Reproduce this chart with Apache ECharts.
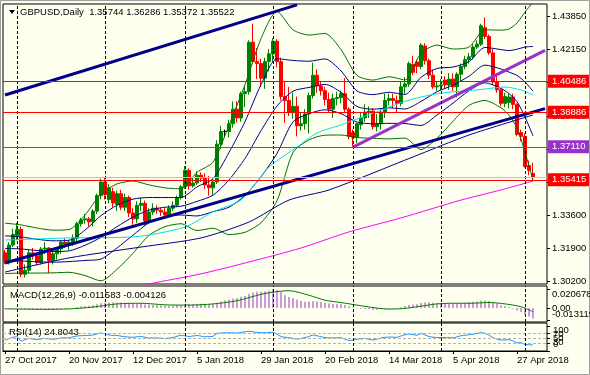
<!DOCTYPE html>
<html><head><meta charset="utf-8">
<script src="https://cdn.jsdelivr.net/npm/echarts@6/dist/echarts.min.js"></script>
<style>html,body{margin:0;padding:0;background:#FFFFF0;}#c{width:590px;height:375px;}</style>
</head><body><div id="c"></div>
<script>
// ---- categories (trading days) ----
const monthDays = [
 ['Oct 2017',[27,30,31]],
 ['Nov 2017',[1,2,3,6,7,8,9,10,13,14,15,16,17,20,21,22,23,24,27,28,29,30]],
 ['Dec 2017',[1,4,5,6,7,8,11,12,13,14,15,18,19,20,21,22,26,27,28,29]],
 ['Jan 2018',[2,3,4,5,8,9,10,11,12,15,16,17,18,19,22,23,24,25,26,29,30,31]],
 ['Feb 2018',[1,2,5,6,7,8,9,12,13,14,15,16,19,20,21,22,23,26,27,28]],
 ['Mar 2018',[1,2,5,6,7,8,9,12,13,14,15,16,19,20,21,22,23,26,27,28,29,30]],
 ['Apr 2018',[2,3,4,5,6,9,10,11,12,13,16,17,18,19,20,23,24,25,26,27,30]],
 ['May 2018',[1,2,3]]
];
const emptySlots = [' ', '  ', '   '];
// ---- OHLC ----
const open = [1.3165,1.3125,1.3205,1.3255,1.3285,1.3055,1.3075,1.3165,1.3150,1.3115,1.3185,1.3190,1.3125,1.3160,1.3185,1.3220,1.3210,1.3220,1.3240,1.3315,1.3335,1.3340,1.3325,1.3380,1.3460,1.3530,1.3440,1.3480,1.3415,1.3470,1.3400,1.3450,1.3370,1.3340,1.3410,1.3420,1.3330,1.3375,1.3395,1.3385,1.3375,1.3360,1.3395,1.3410,1.3450,1.3505,1.3590,1.3510,1.3525,1.3565,1.3550,1.3515,1.3500,1.3530,1.3725,1.3790,1.3790,1.3830,1.3905,1.3860,1.3985,1.3995,1.4250,1.4150,1.4140,1.4065,1.4150,1.4190,1.4255,1.4150,1.3970,1.3950,1.3890,1.3920,1.3820,1.3830,1.3880,1.3975,1.4080,1.4025,1.4000,1.3955,1.3905,1.3960,1.3965,1.3985,1.3905,1.3785,1.3760,1.3825,1.3860,1.3890,1.3895,1.3815,1.3830,1.3890,1.3950,1.3960,1.3950,1.3935,1.4020,1.4035,1.4135,1.4148,1.4125,1.4230,1.4155,1.4080,1.4020,1.4025,1.4055,1.4030,1.4060,1.4020,1.4085,1.4125,1.4160,1.4175,1.4225,1.4240,1.4325,1.4280,1.4195,1.4045,1.4005,1.3935,1.3940,1.3968,1.3930,1.3785,1.3765,1.3615,1.35744];
const high = [1.3180,1.3220,1.3290,1.3320,1.3300,1.3105,1.3180,1.3190,1.3165,1.3195,1.3220,1.3195,1.3180,1.3195,1.3230,1.3240,1.3230,1.3260,1.3325,1.3345,1.3365,1.3350,1.3390,1.3470,1.3548,1.3550,1.3520,1.3500,1.3485,1.3490,1.3470,1.3460,1.3395,1.3430,1.3450,1.3435,1.3395,1.3420,1.3410,1.3400,1.3395,1.3410,1.3430,1.3460,1.3515,1.3612,1.3600,1.3555,1.3585,1.3580,1.3575,1.3560,1.3545,1.3745,1.3820,1.3800,1.3850,1.3945,1.3945,1.3995,1.4025,1.4260,1.4345,1.4220,1.4165,1.4170,1.4215,1.4270,1.4265,1.4170,1.4050,1.4020,1.3990,1.3970,1.3885,1.3905,1.3990,1.4145,1.4110,1.4045,1.4020,1.3990,1.3985,1.3995,1.4000,1.4065,1.3915,1.3800,1.3835,1.3885,1.3930,1.3920,1.3910,1.3880,1.3905,1.3985,1.3985,1.3985,1.3975,1.4045,1.4070,1.4150,1.4180,1.4160,1.4245,1.4245,1.4165,1.4110,1.4045,1.4060,1.4075,1.4090,1.4090,1.4095,1.4140,1.4180,1.4195,1.4240,1.4260,1.4345,1.4377,1.4290,1.4215,1.4090,1.4010,1.3990,1.3985,1.3985,1.3935,1.3800,1.3780,1.3640,1.36286];
const low = [1.3108,1.3105,1.3195,1.3230,1.3040,1.3038,1.3060,1.3130,1.3100,1.3105,1.3160,1.3060,1.3105,1.3130,1.3160,1.3190,1.3180,1.3200,1.3225,1.3300,1.3315,1.3300,1.3300,1.3365,1.3440,1.3440,1.3420,1.3400,1.3380,1.3385,1.3380,1.3350,1.3310,1.3320,1.3380,1.3305,1.3315,1.3360,1.3365,1.3355,1.3340,1.3350,1.3380,1.3400,1.3440,1.3495,1.3490,1.3500,1.3515,1.3530,1.3495,1.3460,1.3465,1.3520,1.3700,1.3760,1.3760,1.3810,1.3835,1.3840,1.3915,1.3980,1.4140,1.4060,1.4020,1.4010,1.4100,1.4150,1.4120,1.3950,1.3835,1.3870,1.3855,1.3765,1.3795,1.3800,1.3780,1.3960,1.3990,1.3975,1.3925,1.3890,1.3860,1.3925,1.3935,1.3885,1.3750,1.3712,1.3730,1.3800,1.3840,1.3860,1.3800,1.3790,1.3800,1.3860,1.3925,1.3910,1.3890,1.3920,1.3985,1.4020,1.4080,1.4090,1.4110,1.4135,1.4060,1.4010,1.4000,1.4000,1.4010,1.4005,1.4000,1.3965,1.4050,1.4110,1.4140,1.4160,1.4215,1.4230,1.4265,1.4185,1.4030,1.3990,1.3920,1.3915,1.3910,1.3905,1.3765,1.3740,1.3605,1.3565,1.35372];
const close = [1.3120,1.3205,1.3260,1.3285,1.3055,1.3075,1.3165,1.3150,1.3115,1.3185,1.3190,1.3125,1.3160,1.3185,1.3220,1.3210,1.3220,1.3240,1.3315,1.3335,1.3340,1.3325,1.3380,1.3460,1.3530,1.3465,1.3500,1.3422,1.3470,1.3400,1.3450,1.3370,1.3340,1.3410,1.3420,1.3330,1.3375,1.3395,1.3385,1.3375,1.3360,1.3395,1.3410,1.3450,1.3505,1.3590,1.3510,1.3525,1.3565,1.3550,1.3515,1.3500,1.3530,1.3725,1.3790,1.3790,1.3830,1.3905,1.3860,1.3985,1.3995,1.4250,1.4150,1.4140,1.4065,1.4150,1.4190,1.4255,1.4150,1.3970,1.3950,1.3890,1.3920,1.3820,1.3830,1.3880,1.3975,1.4080,1.4025,1.4000,1.3955,1.3905,1.3960,1.3965,1.3985,1.3905,1.3765,1.3760,1.3830,1.3860,1.3890,1.3895,1.3815,1.3830,1.3890,1.3950,1.3960,1.3950,1.3935,1.4020,1.4035,1.4140,1.4095,1.4125,1.4235,1.4155,1.4080,1.4020,1.4025,1.4030,1.4030,1.4060,1.4020,1.4085,1.4125,1.4160,1.4175,1.4225,1.4240,1.4335,1.4280,1.4195,1.4045,1.4005,1.3935,1.3970,1.3968,1.3930,1.3775,1.3765,1.3610,1.3590,1.35522];
// ---- indicator lines: [bar index, price] ----
const bbUpper2 = [[0,1.3318],[4,1.3309],[8,1.3293],[12,1.3282],[16,1.3285],[20,1.3360],[24,1.3469],[28,1.3520],[32,1.3535],[36,1.3515],[40,1.3500],[44,1.3495],[48,1.3580],[52,1.3632],[56,1.3823],[60,1.4031],[64,1.4268],[68,1.4409],[72,1.4314],[76,1.4287],[80,1.4295],[84,1.4212],[88,1.4079],[92,1.4055],[96,1.4072],[100,1.4056],[104,1.4193],[108,1.4235],[112,1.4215],[116,1.4225],[120,1.4314],[124,1.4312],[126,1.4318],[128,1.4349],[130,1.4405],[132,1.4458]];
const bbUpper1 = [[0,1.3253],[4,1.3247],[8,1.3235],[12,1.3227],[16,1.3230],[20,1.3282],[24,1.3357],[28,1.3410],[32,1.3442],[36,1.3450],[40,1.3450],[44,1.3450],[48,1.3505],[52,1.3547],[56,1.3682],[60,1.3841],[64,1.4031],[68,1.4165],[72,1.4156],[76,1.4152],[80,1.4164],[84,1.4102],[88,1.3999],[92,1.3980],[96,1.3992],[100,1.3981],[104,1.4069],[108,1.4115],[112,1.4122],[116,1.4150],[120,1.4223],[124,1.4212],[126,1.4207],[128,1.4214],[130,1.4225],[132,1.4228]];
const bbMid = [[0,1.3188],[4,1.3185],[8,1.3177],[12,1.3172],[16,1.3175],[20,1.3204],[24,1.3245],[28,1.3300],[32,1.3349],[36,1.3385],[40,1.3400],[44,1.3405],[48,1.3430],[52,1.3462],[56,1.3541],[60,1.3651],[64,1.3794],[68,1.3921],[72,1.3998],[76,1.4017],[80,1.4033],[84,1.3992],[88,1.3919],[92,1.3905],[96,1.3912],[100,1.3906],[104,1.3945],[108,1.3995],[112,1.4029],[116,1.4075],[120,1.4132],[124,1.4112],[126,1.4096],[128,1.4079],[130,1.4045],[132,1.3998]];
const bbLower1 = [[0,1.3123],[4,1.3123],[8,1.3119],[12,1.3117],[16,1.3120],[20,1.3126],[24,1.3133],[28,1.3190],[32,1.3256],[36,1.3320],[40,1.3350],[44,1.3360],[48,1.3355],[52,1.3377],[56,1.3400],[60,1.3461],[64,1.3557],[68,1.3677],[72,1.3840],[76,1.3882],[80,1.3902],[84,1.3882],[88,1.3839],[92,1.3830],[96,1.3832],[100,1.3831],[104,1.3821],[108,1.3875],[112,1.3936],[116,1.4000],[120,1.4041],[124,1.4012],[126,1.3985],[128,1.3944],[130,1.3865],[132,1.3768]];
const bbLower2 = [[0,1.3058],[4,1.3061],[8,1.3061],[12,1.3062],[16,1.3065],[20,1.3048],[24,1.3021],[28,1.3080],[32,1.3163],[36,1.3255],[40,1.3300],[44,1.3315],[48,1.3280],[52,1.3292],[56,1.3259],[60,1.3271],[64,1.3320],[68,1.3433],[72,1.3682],[76,1.3747],[80,1.3771],[84,1.3772],[88,1.3759],[92,1.3755],[96,1.3752],[100,1.3756],[104,1.3697],[108,1.3755],[112,1.3843],[116,1.3925],[120,1.3950],[124,1.3912],[126,1.3874],[128,1.3809],[130,1.3685],[132,1.3538]];
const maCyan = [[0,1.3231],[16,1.3242],[32,1.3247],[45,1.3298],[52,1.3376],[59,1.3437],[66,1.3607],[73,1.3710],[78,1.3783],[84,1.3824],[92,1.3885],[101,1.3952],[109,1.3988],[118,1.4004],[125,1.4019],[129,1.4004],[132,1.3978]];
const maSlow = [[0,1.3066],[16,1.3139],[34,1.3195],[49,1.3242],[61,1.3324],[71,1.3437],[81,1.3489],[102,1.3659],[116,1.3772],[132,1.3875]];
const maMagenta = [[30,1.2975],[36,1.3005],[49,1.3057],[61,1.3118],[74,1.3190],[86,1.3273],[99,1.3345],[114,1.3437],[124,1.3489],[132,1.3535]];
// trendlines: [bar index, price]
const trendUpper = [[0,1.3978],[73,1.4442]];
const trendLower = [[0,1.3113],[135,1.3908]];
const trendPurple = [[87,1.3710],[135,1.4208]];
// horizontal levels
const redLevels = [1.40486, 1.38886, 1.35415];
const purpleLevel = 1.37110;
const bidPrice = 1.35522;
const priceTicks = [1.30200,1.31900,1.33600,1.35300,1.37000,1.38700,1.40450,1.42150,1.43850];
// MACD(12,26,9)
const macdMain = [-0.0012,-0.0010,-0.0006,-0.0003,
 -0.0010,-0.0016,-0.0016,-0.0017,-0.0019,-0.0016,-0.0014,-0.0016,-0.0014,-0.0012,-0.0008,-0.0006,
 -0.0004,0.0000,0.0008,0.0016,0.0022,0.0025,0.0030,0.0040,
 0.0052,0.0058,0.0060,0.0061,0.0060,0.0060,0.0057,0.0052,0.0047,0.0046,0.0046,
 0.0038,0.0035,0.0033,0.0030,0.0028,0.0025,0.0025,0.0026,0.0029,0.0034,
 0.0042,0.0043,0.0045,0.0047,0.0048,0.0047,0.0045,0.0044,
 0.0058,0.0072,0.0082,0.0092,0.0104,0.0110,0.0123,0.0132,
 0.0158,0.0170,0.0178,0.0178,0.0184,0.0190,0.020678,0.0198,
 0.0172,0.0140,0.0122,0.0108,0.0090,0.0078,0.0070,0.0072,
 0.0074,0.0072,0.0066,0.0058,0.0050,0.0046,0.0042,0.0040,0.0032,0.0018,
 0.0006,-0.0004,-0.0008,-0.0012,-0.0015,-0.0020,-0.0018,-0.0015,-0.0010,-0.0006,-0.0004,-0.0002,0.0008,
 0.0022,0.0033,0.0038,0.0042,0.0055,0.0060,0.0060,0.0057,0.0053,0.0050,0.0048,
 0.0048,0.0046,0.0049,0.0053,0.0058,0.0062,0.0068,0.0072,0.0080,0.0082,0.0078,0.0064,0.0050,
 0.0030,0.0020,0.0012,-0.0005,-0.0028,-0.0045,-0.0072,-0.0094,-0.011583];
const macdSignal = [[0,-0.0010],[5,-0.0012],[10,-0.0015],[16,-0.0010],[22,0.0010],[28,0.0045],[34,0.0052],[40,0.0035],[46,0.0032],[52,0.0045],[58,0.0080],[64,0.0150],[68,0.0180],[71,0.0190],[76,0.0140],[80,0.0086],[84,0.0060],[88,0.0032],[92,0.0005],[96,-0.0012],[100,-0.0004],[104,0.0020],[108,0.0045],[112,0.0052],[116,0.0052],[121,0.0060],[125,0.0045],[129,0.0014],[132,-0.004126]];
const macdTicks = [-0.013119, 0, 0.020678];
const macdTickText = ['-0.013119', '0.00', '0.020678'];
const macdLabelShift = [-6, 0, 5];
// RSI(14)
const rsi = [[0,43],[2,55],[3,57],[4,40],[6,50],[8,46],[10,50],[12,47],[14,52],[16,53],[18,60],[20,62],[22,64],[24,72],[26,64],[28,62],[30,57],[32,55],[34,58],[36,52],[38,52],[40,50],[42,54],[44,63],[46,58],[48,62],[50,57],[52,59],[53,70],[56,73],[58,72],[61,79],[63,74],[65,73],[67,75],[69,58],[71,53],[73,48],[76,58],[77,64],[79,57],[81,52],[84,53],[86,42],[88,47],[90,50],[92,44],[94,52],[96,56],[98,55],[99,60],[101,68],[103,63],[104,70],[106,58],[108,54],[110,54],[112,53],[114,61],[117,67],[119,73],[120,71],[121,63],[122,53],[124,44],[126,45],[127,40],[128,33],[129,33],[130,26],[131,25],[132,24.8043]];
const rsiLevels = [30, 50, 70];
const rsiTicks = [0, 30, 50, 70, 100];
const rsiLabelShift = [-7, -1, 0, 1, 4];
// month separators (first bar of each month) & labelled dates
const sepIdx = [3, 25, 45, 67, 87, 109, 130];
const labelEvery = 16;

// ---- build ----
const dates = [];
monthDays.forEach(([m, ds]) => ds.forEach(d => dates.push(d + ' ' + m)));
const cats = dates.concat(emptySlots);
const candles = open.map((o, i) => [o, close[i], low[i], high[i]]);

const FONT = 'Liberation Sans';
const FS = 9.5;
const NAVY = '#00008B', GREEN = '#007000', PURPLE = '#9932CC';

const sepLines = sepIdx.map(i => ({ xAxis: cats[i] }));
const sepStyle = { color: '#000', type: [3, 2], width: 1 };

function xAx(g, showLabels) {
  return {
    type: 'category', gridIndex: g, data: cats, boundaryGap: true,
    axisLine: { show: showLabels, lineStyle: { color: '#000' } },
    axisTick: { show: showLabels, interval: labelEvery - 1, alignWithLabel: true, length: 3, lineStyle: { color: '#000' } },
    axisLabel: { show: showLabels, interval: labelEvery - 1, align: 'left', margin: 4,
      fontFamily: FONT, fontSize: FS, color: '#000', hideOverlap: false,
      formatter: v => v.trim() === '' ? '' : v },
    splitLine: { show: false }
  };
}
function lineS(data, color, width, z) {
  return { type: 'line', xAxisIndex: 0, yAxisIndex: 0, data, showSymbol: false, symbol: 'none',
    smooth: 0.25, lineStyle: { color, width }, z: z || 3, silent: true };
}

const chart = echarts.init(document.getElementById('c'), null, { renderer: 'canvas' });
chart.setOption({
  animation: false,
  backgroundColor: '#FFFFF0',
  grid: [
    { left: 3, width: 544, top: 4, height: 280, show: true, borderColor: '#000', borderWidth: 1 },
    { left: 3, width: 544, top: 286, height: 36, show: true, borderColor: '#000', borderWidth: 1 },
    { left: 3, width: 544, top: 323, height: 28, show: true, borderColor: '#000', borderWidth: 1 }
  ],
  xAxis: [xAx(0, false), xAx(1, false), xAx(2, true)],
  yAxis: [
    { type: 'value', gridIndex: 0, position: 'right', min: 1.30046, max: 1.44468,
      splitLine: { show: false }, axisLine: { show: false },
      axisTick: { show: true, length: 3, customValues: priceTicks, lineStyle: { color: '#000' } },
      axisLabel: { customValues: priceTicks, interval: 0, margin: 5, fontFamily: FONT, fontSize: FS, color: '#000', hideOverlap: false,
        formatter: v => v.toFixed(5) } },
    { type: 'value', gridIndex: 1, position: 'right', min: -0.0154, max: 0.0242,
      splitLine: { show: false }, axisLine: { show: false },
      axisTick: { show: true, length: 3, customValues: macdTicks, lineStyle: { color: '#000' } },
      axisLabel: { show: false } },
    { type: 'value', gridIndex: 2, position: 'right', min: 0, max: 112,
      splitLine: { show: false }, axisLine: { show: false },
      axisTick: { show: true, length: 3, customValues: rsiTicks, lineStyle: { color: '#000' } },
      axisLabel: { show: false } }
  ],
  series: [
    { type: 'candlestick', xAxisIndex: 0, yAxisIndex: 0, data: candles, barWidth: 3, z: 2,
      itemStyle: { color: '#008000', color0: '#FF0000', borderColor: '#008000', borderColor0: '#FF0000',
        borderColorDoji: '#000', borderWidth: 1 },
      markLine: { silent: true, symbol: ['none', 'none'], precision: 5, z: 6,
        data: [
          ...sepLines.map(d => Object.assign({ lineStyle: sepStyle, label: { show: false } }, d)),
          { yAxis: bidPrice, lineStyle: { color: '#C0C0C0', type: 'solid', width: 1 }, label: { show: false } },
          ...redLevels.map(v => ({ yAxis: v, lineStyle: { color: '#FF0000', type: 'solid', width: 1 },
            label: { show: true, position: 'end', distance: 1, formatter: v.toFixed(5), color: '#fff',
              backgroundColor: '#FF0000', padding: [2, 5, 1, 4], fontFamily: FONT, fontSize: FS } })),
          { yAxis: purpleLevel, lineStyle: { color: PURPLE, type: 'solid', width: 1 },
            label: { show: true, position: 'end', distance: 1, formatter: purpleLevel.toFixed(5), color: '#fff',
              backgroundColor: PURPLE, padding: [2, 5, 1, 4], fontFamily: FONT, fontSize: FS } }
        ] } },
    lineS(bbUpper2, GREEN, 1), lineS(bbLower2, GREEN, 1),
    lineS(bbUpper1, NAVY, 1), lineS(bbMid, NAVY, 1), lineS(bbLower1, NAVY, 1),
    lineS(maCyan, '#00E0F0', 1), lineS(maSlow, NAVY, 1), lineS(maMagenta, '#FF00FF', 1),
    Object.assign(lineS(trendUpper, NAVY, 3, 5), { smooth: false }),
    Object.assign(lineS(trendLower, NAVY, 3, 5), { smooth: false }),
    Object.assign(lineS(trendPurple, PURPLE, 3, 5), { smooth: false }),
    { type: 'bar', xAxisIndex: 1, yAxisIndex: 1, data: macdMain, barWidth: 1, itemStyle: { color: PURPLE }, silent: true,
      markLine: { silent: true, symbol: ['none', 'none'], data: sepLines, lineStyle: sepStyle, label: { show: false } } },
    { type: 'line', xAxisIndex: 1, yAxisIndex: 1, data: macdSignal, showSymbol: false, smooth: 0.3,
      lineStyle: { color: '#008000', width: 1 }, silent: true },
    { type: 'line', xAxisIndex: 2, yAxisIndex: 2, data: rsi, showSymbol: false, smooth: 0.2,
      lineStyle: { color: '#1E90FF', width: 1 }, silent: true,
      markLine: { silent: true, symbol: ['none', 'none'], label: { show: false },
        data: [
          ...rsiLevels.map(v => ({ yAxis: v, lineStyle: { color: '#B4B4B4', type: [3, 2], width: 1 } })),
          ...sepLines.map(d => Object.assign({ lineStyle: sepStyle }, d))
        ] } }
  ]
});

// sub-window scale labels, placed at their values through the axes
const axisX = chart.convertToPixel({ xAxisIndex: 2 }, cats[cats.length - 1]) + 2 + 5;
const subLabels = [];
macdTicks.forEach((v, k) => {
  const y = chart.convertToPixel({ yAxisIndex: 1 }, v) + macdLabelShift[k];
  subLabels.push({ type: 'text', x: axisX, y, z: 100, silent: true,
    style: { text: macdTickText[k], fontFamily: FONT, fontSize: FS, fill: '#000', verticalAlign: 'middle' } });
});
rsiTicks.forEach((v, k) => {
  const y = chart.convertToPixel({ yAxisIndex: 2 }, v) + rsiLabelShift[k];
  subLabels.push({ type: 'text', x: axisX + 1, y, z: 100, silent: true,
    style: { text: String(v), fontFamily: FONT, fontSize: FS, fill: '#000', verticalAlign: 'middle' } });
});

chart.setOption({
  graphic: [
    { type: 'rect', shape: { x: 0.5, y: 0.5, width: 589, height: 374 }, style: { fill: 'none', stroke: '#A0A0A0', lineWidth: 1 }, silent: true, z: 100 },
    { type: 'polygon', shape: { points: [[9, 10], [15, 10], [12, 14]] }, style: { fill: '#000' }, z: 100 },
    { type: 'text', x: 20, y: 12, style: { text: 'GBPUSD,Daily  1.35744 1.36286 1.35372 1.35522', fontFamily: FONT, fontSize: FS, fill: '#000', verticalAlign: 'middle' }, z: 100 },
    { type: 'text', x: 10, y: 295, style: { text: 'MACD(12,26,9) -0.011583 -0.004126', fontFamily: FONT, fontSize: FS, fill: '#000', verticalAlign: 'middle' }, z: 100 },
    { type: 'text', x: 9, y: 332, style: { text: 'RSI(14) 24.8043', fontFamily: FONT, fontSize: FS, fill: '#000', verticalAlign: 'middle' }, z: 100 },
    ...subLabels
  ]
});
</script>
</body></html>
